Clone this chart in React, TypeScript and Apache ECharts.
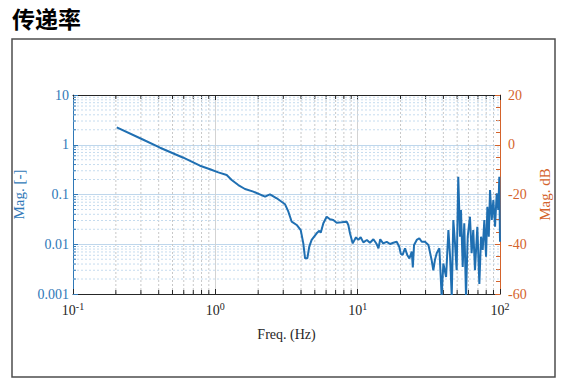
import React, { useEffect, useRef } from "react";
import * as echarts from "echarts";

// Frequency (Hz) and transmissibility magnitude (-)
const freqHz = [
  0.203, 0.304, 0.409, 0.596, 0.78, 0.918, 1.049, 1.202, 1.303, 1.45,
  1.616, 1.849, 2.234, 2.42, 2.7, 3.09, 3.26, 3.44, 3.73, 3.98,
  4.15, 4.27, 4.43, 4.57, 4.75, 5.15, 5.38, 5.5, 5.74, 6.06,
  6.39, 6.74, 7.12, 7.72, 8.38, 8.6, 8.83, 9.23, 9.73, 10.1,
  10.5, 10.96, 11.6, 12.2, 12.9, 13.6, 14.0, 14.4, 15.1, 16.0,
  16.9, 17.8, 18.8, 19.6, 20.1, 20.7, 21.5, 22.3, 23.1, 24.0,
  24.4, 24.9, 26.0, 27.1, 28.2, 29.7, 31.4, 33.1, 34.0, 34.9,
  35.9, 37.5, 38.9, 40.0, 41.8, 43.4, 44.6, 45.8, 47.0, 48.3,
  49.6, 50.9, 52.4, 53.2, 54.7, 56.1, 57.7, 59.3, 61.5, 63.2,
  64.9, 66.7, 69.3, 71.6, 73.6, 75.6, 77.6, 79.8, 81.5, 83.4,
  85.1, 87.5, 89.8, 92.3, 94.8, 97.3, 98.9, 100,
];
const magnitude = [
  2.24, 1.305, 0.872, 0.549, 0.379, 0.321, 0.279, 0.247, 0.196, 0.155,
  0.129, 0.114, 0.0904, 0.101, 0.0839, 0.0635, 0.0451, 0.0284, 0.0244, 0.0193,
  0.0104, 0.00522, 0.00522, 0.00893, 0.0122, 0.0166, 0.0187, 0.0171, 0.0264, 0.0358,
  0.0318, 0.0307, 0.0271, 0.0276, 0.0284, 0.0244, 0.0166, 0.0104, 0.0138, 0.0122,
  0.0138, 0.0109, 0.0122, 0.0107, 0.0126, 0.0101, 0.0083, 0.0126, 0.0104, 0.0112,
  0.0101, 0.0107, 0.0112, 0.0089, 0.0064, 0.0061, 0.0083, 0.0061, 0.0052, 0.0071,
  0.0034, 0.0097, 0.0122, 0.0132, 0.0112, 0.0112, 0.0097, 0.0048, 0.003, 0.0048,
  0.0066, 0.0083, 0.0009, 0.0041, 0.0022, 0.0193, 0.0056, 0.0009, 0.0307, 0.0104,
  0.003, 0.228, 0.0142, 0.0488, 0.0035, 0.0264, 0.0009, 0.0142, 0.0358, 0.0066,
  0.0193, 0.003, 0.0225, 0.0016, 0.0142, 0.0077, 0.0307, 0.0056, 0.0569, 0.0142,
  0.123, 0.0307, 0.0776, 0.0225, 0.106, 0.0488, 0.228, 0.0112,
];

// Axis ranges / ticks
const xDecades = [0.1, 1, 10, 100];
const yDecades = [0.001, 0.01, 0.1, 1, 10];
const dbRange = [-60, 20];
const dbInterval = 20;

const TITLE = "传递率";
const X_NAME = "Freq. (Hz)";
const Y_NAME = "Mag. [-]";
const Y2_NAME = "Mag. dB";

function minorBetween(decades: number[]): number[] {
  const out: number[] = [];
  for (let i = 0; i < decades.length - 1; i++) {
    for (let k = 2; k <= 9; k++) out.push(Number((decades[i] * k).toPrecision(3)));
  }
  return out;
}

const SERIF = "Liberation Serif";
const DARK = "#262626";
const BLUE = "#2f78b7";
const LINE = "#1f6fb2";
const ORANGE = "#d4632b";

export default function App() {
  const ref = useRef<HTMLDivElement>(null);

  useEffect(() => {
    document.body.style.margin = "0";
    if (!ref.current) return;
    const chart = echarts.init(ref.current, undefined, { renderer: "svg" });
    const xMin = xDecades[0];
    const xMax = xDecades[xDecades.length - 1];
    const yMin = yDecades[0];
    const yMax = yDecades[yDecades.length - 1];
    const xMinor = minorBetween(xDecades);
    const yMinor = minorBetween(yDecades);

    const option: any = {
      animation: false,
      backgroundColor: "#ffffff",
      graphic: [
        {
          type: "text",
          left: 12,
          top: 6,
          style: {
            text: TITLE,
            fontSize: 23,
            fontWeight: "bold",
            fontFamily: "Noto Sans CJK SC",
            fill: "#000000",
          },
        },
        {
          type: "rect",
          shape: { x: 12, y: 39, width: 543, height: 338 },
          style: { fill: "none", stroke: "#4d4d4d", lineWidth: 1.5 },
        },
      ],
      grid: { left: 73, right: 64, top: 95, bottom: 95, containLabel: false },
      xAxis: [
        {
          type: "log",
          logBase: 10,
          min: xMin,
          max: xMax,
          position: "bottom",
          axisLine: { show: true, onZero: false, lineStyle: { color: DARK, width: 1 } },
          axisTick: { show: true, inside: true, length: 5, lineStyle: { color: DARK } },
          axisLabel: {
            margin: 7,
            formatter: (v: number) => `{b|10}{s|${Math.round(Math.log10(v))}}`,
            rich: {
              b: { fontFamily: SERIF, fontSize: 14, color: DARK },
              s: { fontFamily: SERIF, fontSize: 10, color: DARK, padding: [0, 0, 8, 0] },
            },
          },
          splitLine: { show: true, lineStyle: { color: "#d3d3d3", width: 1 } },
          name: X_NAME,
          nameLocation: "middle",
          nameGap: 33,
          nameTextStyle: { fontFamily: SERIF, fontSize: 14, color: DARK },
        },
        {
          type: "log",
          logBase: 10,
          min: xMin,
          max: xMax,
          position: "top",
          axisLine: { show: true, onZero: false, lineStyle: { color: DARK, width: 1 } },
          axisTick: { show: true, inside: true, length: 5, lineStyle: { color: DARK } },
          axisLabel: { show: false },
          splitLine: { show: false },
        },
      ],
      yAxis: [
        {
          type: "log",
          logBase: 10,
          min: yMin,
          max: yMax,
          position: "left",
          axisLine: { show: true, onZero: false, lineStyle: { color: BLUE, width: 1 } },
          axisTick: { show: true, inside: true, length: 5, lineStyle: { color: BLUE } },
          axisLabel: {
            color: BLUE,
            fontFamily: SERIF,
            fontSize: 14,
            margin: 4,
            formatter: (v: number) => String(v),
          },
          splitLine: { show: true, lineStyle: { color: "#bfd7ec", width: 1 } },
          name: Y_NAME,
          nameLocation: "middle",
          nameRotate: 90,
          nameGap: 33,
          nameTextStyle: { color: BLUE, fontFamily: SERIF, fontSize: 15 },
        },
        {
          type: "value",
          min: dbRange[0],
          max: dbRange[1],
          interval: dbInterval,
          position: "right",
          axisLine: { show: true, onZero: false, lineStyle: { color: ORANGE, width: 1 } },
          axisTick: { show: true, inside: true, length: 5, lineStyle: { color: ORANGE } },
          minorTick: { show: true, splitNumber: 4, length: 4, lineStyle: { color: ORANGE } },
          axisLabel: { color: ORANGE, fontFamily: SERIF, fontSize: 14, margin: 8 },
          splitLine: { show: false },
          name: Y2_NAME,
          nameLocation: "middle",
          nameRotate: 90,
          nameGap: 29,
          nameTextStyle: { color: ORANGE, fontFamily: SERIF, fontSize: 15 },
        },
      ],
      series: [
        {
          type: "custom",
          name: "xMinorGrid",
          xAxisIndex: 0,
          yAxisIndex: 0,
          silent: true,
          z: 1,
          data: xMinor.map((f) => [f, yMin]),
          renderItem: (params: any, api: any) => {
            const f = api.value(0);
            const b = api.coord([f, yMin]);
            const t = api.coord([f, yMax]);
            return {
              type: "group",
              children: [
                {
                  type: "line",
                  shape: { x1: b[0], y1: b[1], x2: t[0], y2: t[1] },
                  style: { stroke: "#c8c8c8", lineWidth: 1, lineDash: [2, 2] },
                },
                {
                  type: "line",
                  shape: { x1: b[0], y1: b[1], x2: b[0], y2: b[1] - 4 },
                  style: { stroke: DARK, lineWidth: 1 },
                },
                {
                  type: "line",
                  shape: { x1: t[0], y1: t[1], x2: t[0], y2: t[1] + 4 },
                  style: { stroke: DARK, lineWidth: 1 },
                },
              ],
            };
          },
        },
        {
          type: "custom",
          name: "yMinorGrid",
          xAxisIndex: 0,
          yAxisIndex: 0,
          silent: true,
          z: 1,
          data: yMinor.map((m) => [xMin, m]),
          renderItem: (params: any, api: any) => {
            const m = api.value(1);
            const l = api.coord([xMin, m]);
            const r = api.coord([xMax, m]);
            return {
              type: "group",
              children: [
                {
                  type: "line",
                  shape: { x1: l[0], y1: l[1], x2: r[0], y2: r[1] },
                  style: { stroke: "#c6dcef", lineWidth: 1, lineDash: [2, 2] },
                },
                {
                  type: "line",
                  shape: { x1: l[0], y1: l[1], x2: l[0] + 3, y2: l[1] },
                  style: { stroke: BLUE, lineWidth: 1 },
                },
              ],
            };
          },
        },
        {
          type: "line",
          name: "Transmissibility",
          xAxisIndex: 0,
          yAxisIndex: 0,
          z: 3,
          showSymbol: false,
          clip: true,
          lineStyle: { color: LINE, width: 2 },
          itemStyle: { color: LINE },
          data: freqHz.map((f, i) => [f, magnitude[i]]),
        },
      ],
    };
    chart.setOption(option);
    return () => chart.dispose();
  }, []);

  return <div ref={ref} style={{ width: 564, height: 389 }} />;
}
